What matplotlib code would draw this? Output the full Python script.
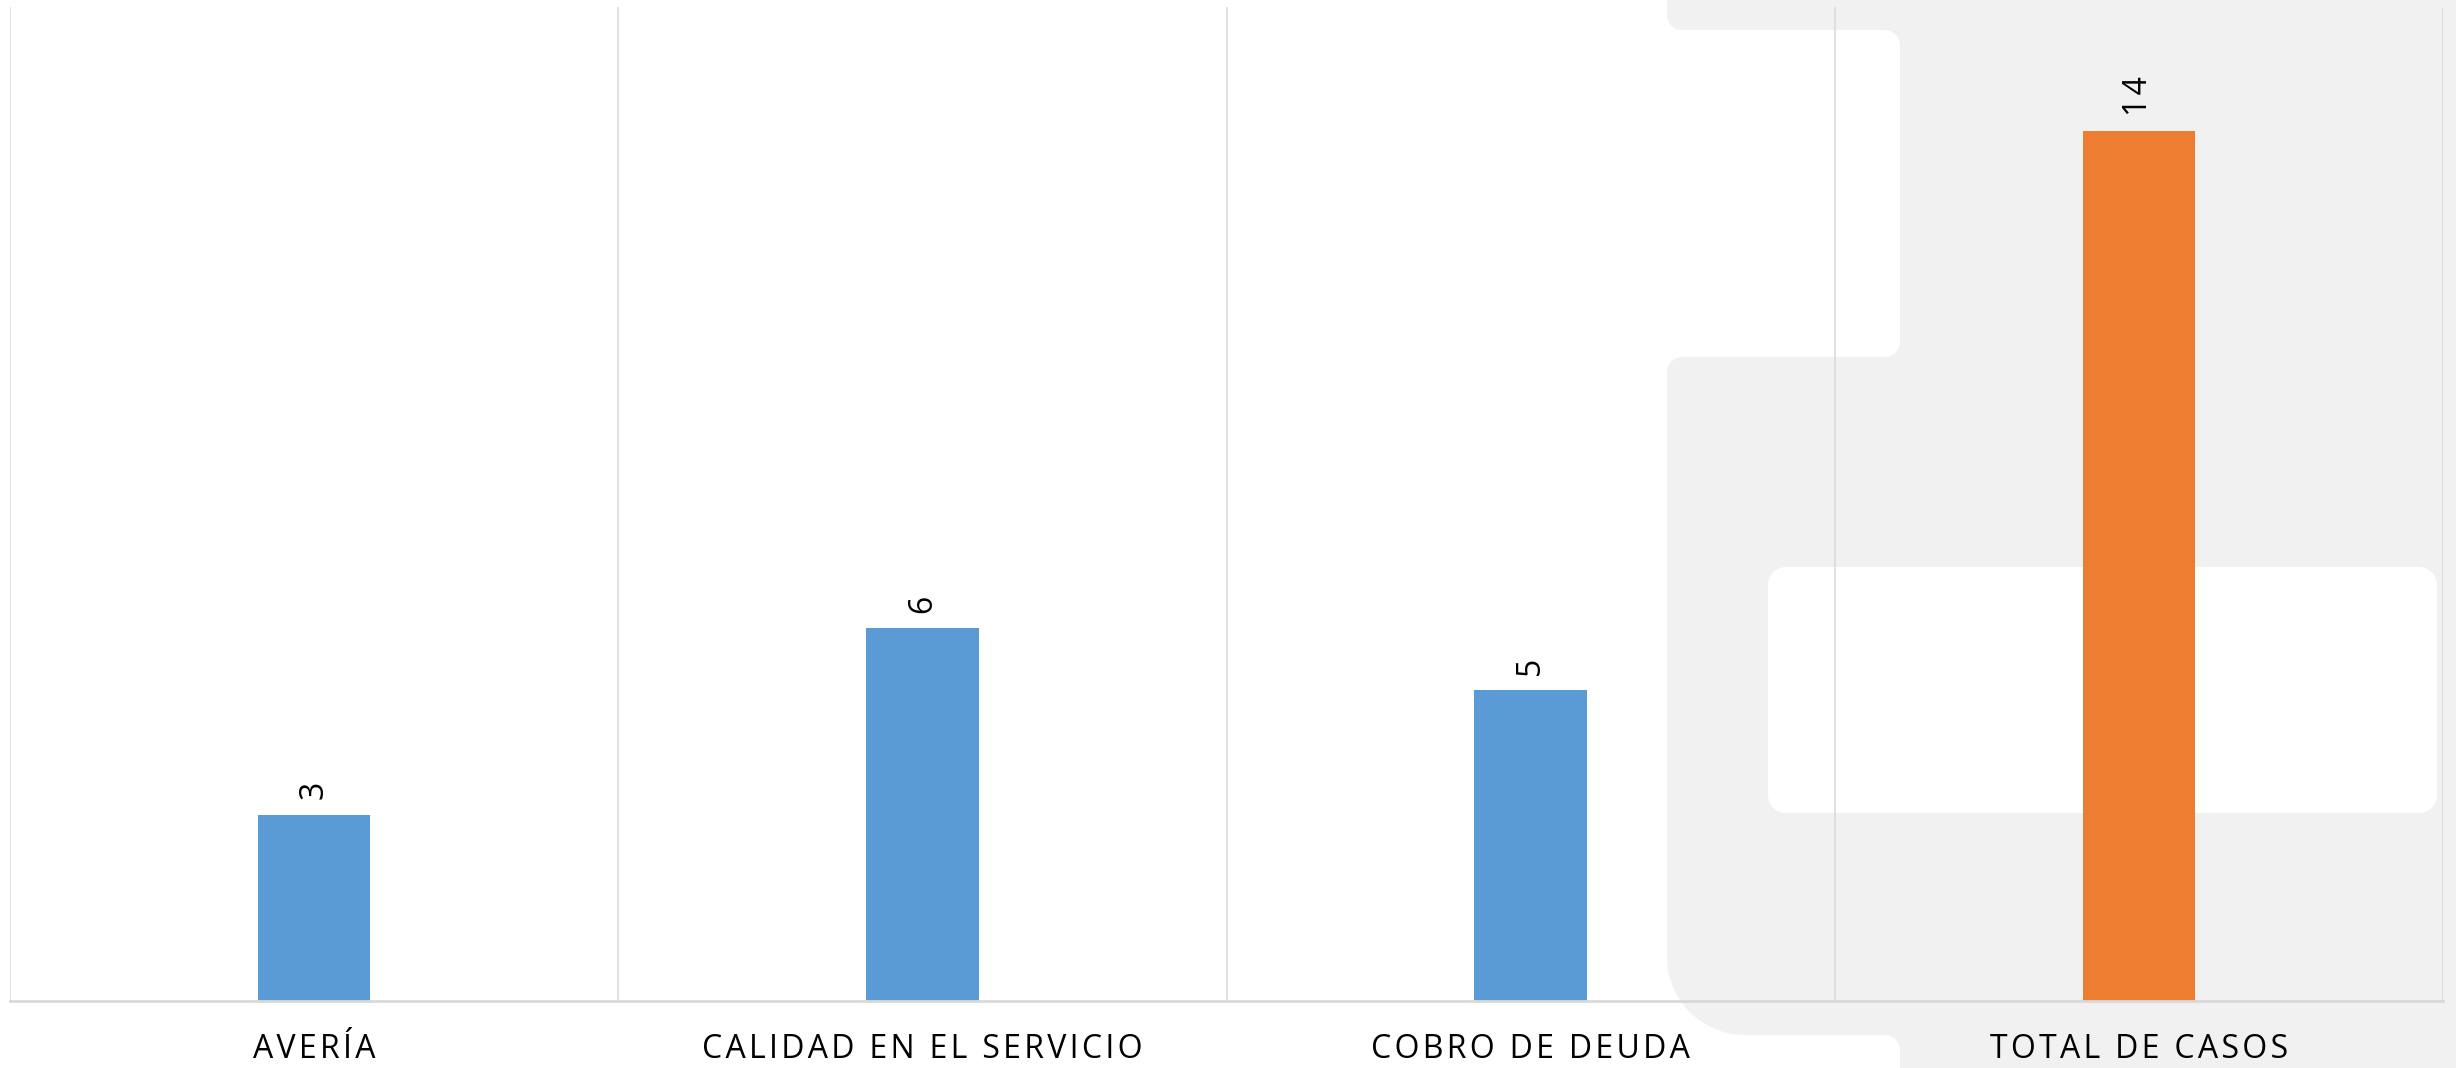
import numpy as np
import matplotlib
matplotlib.use("Agg")
import matplotlib.pyplot as plt
from matplotlib.patches import Polygon

# Chart data
categories = ["AVERÍA", "CALIDAD EN EL SERVICIO", "COBRO DE DEUDA", "TOTAL DE CASOS"]
values = [3, 6, 5, 14]
bar_colors = ["#5B9BD5", "#5B9BD5", "#5B9BD5", "#ED7D31"]

FONT = ["Open Sans", "DejaVu Sans"]
TRACK = "\u200a"  # extra letter spacing


def spaced(s):
    return TRACK.join(s)


W, H = 2456, 1068
fig = plt.figure(figsize=(W / 100, H / 100), dpi=100)
fig.patch.set_facecolor("white")

# Decorative background shape drawn in pixel space
bg = fig.add_axes([0, 0, 1, 1], zorder=0)
bg.set_xlim(0, W)
bg.set_ylim(H, 0)
bg.axis("off")


def arc(cx, cy, r, t0, t1, n=24):
    t = np.linspace(t0, t1, n)
    return list(zip(cx + r * np.cos(t), cy + r * np.sin(t)))


def rounded_rect(x0, y0, x1, y1, r):
    pts = []
    pts += arc(x1 - r, y0 + r, r, -np.pi / 2, 0)
    pts += arc(x1 - r, y1 - r, r, 0, np.pi / 2)
    pts += arc(x0 + r, y1 - r, r, np.pi / 2, np.pi)
    pts += arc(x0 + r, y0 + r, r, np.pi, 1.5 * np.pi)
    return pts


grey = "#F0F1F0"
pi = np.pi
outline = [(1667, -10), (2470, -10), (2470, 1080), (1900, 1080)]
outline += arc(1885, 1050, 15, 0, -pi / 2)
outline += arc(1745, 957, 78, pi / 2, pi)
outline += arc(1682, 372, 15, pi, 1.5 * pi)
outline += arc(1885, 342, 15, pi / 2, 0)
outline += arc(1885, 45, 15, 0, -pi / 2)
outline += arc(1682, 15, 15, pi / 2, pi)
bg.add_patch(Polygon(outline, closed=True, facecolor=grey, edgecolor="none"))
bg.add_patch(Polygon(rounded_rect(1768, 567, 2437, 813, 18), closed=True,
                     facecolor="white", edgecolor="none"))

# Main chart
ax = fig.add_axes([10 / W, 1 - 1001 / H, (2443 - 10) / W, (1001 - 7) / H], zorder=1)
ax.patch.set_alpha(0)
x = np.arange(len(categories))
bars = ax.bar(x, values, width=0.185, color=bar_colors, zorder=3)
ax.set_xlim(-0.5, len(categories) - 0.5)
ax.set_ylim(0, 16)

grid_c = "#D9D9D9"
for b in np.arange(-0.5, len(categories), 1.0):
    ax.axvline(b, color=grid_c, lw=1.1, zorder=1)

for s in ["top", "left", "right"]:
    ax.spines[s].set_visible(False)
ax.spines["bottom"].set_color(grid_c)
ax.spines["bottom"].set_linewidth(2.0)
ax.spines["bottom"].set_zorder(4)

ax.set_yticks([])
ax.set_xticks(x)
ax.set_xticklabels([spaced(c) for c in categories], fontfamily=FONT,
                   fontsize=23, color="#000000")
ax.tick_params(axis="x", length=0, pad=23)

for xi, v in zip(x, values):
    ax.annotate(spaced(str(v)), (xi, v), xytext=(0, 11), textcoords="offset points",
                rotation=90, ha="center", va="bottom", fontsize=23,
                fontfamily=FONT, color="#000000")

fig.savefig("out.png", dpi=100)
